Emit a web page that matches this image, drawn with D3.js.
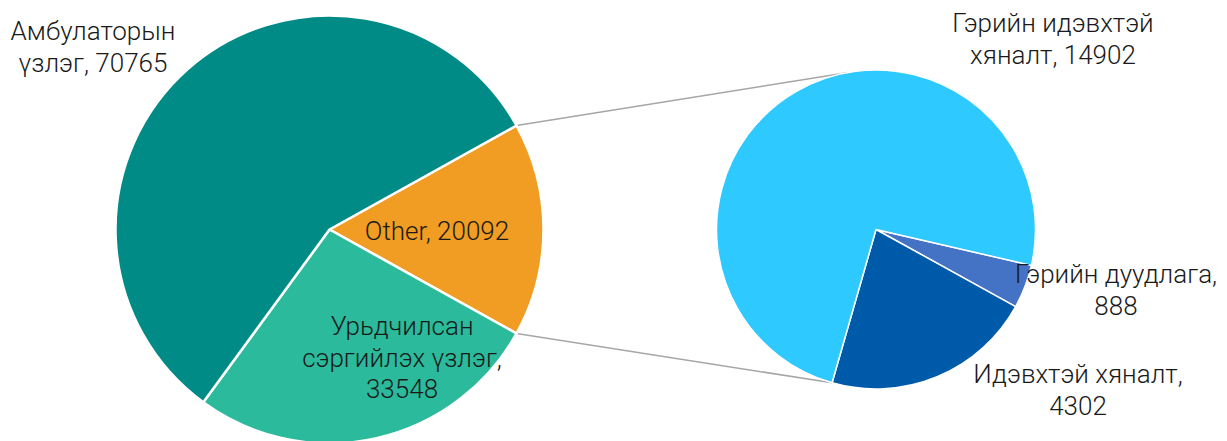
<!DOCTYPE html>
<html>
<head>
<meta charset="utf-8">
<script src="https://cdn.jsdelivr.net/npm/d3@7"></script>
<style>
  body { margin: 0; background: #fff; }
  text { font-family: Roboto, "Noto Sans", sans-serif; font-weight: 300; fill: #1a1a1a; }
</style>
</head>
<body>
<div id="container"></div>
<script>
/* DATA */
const mainLabels = ["Other", "Урьдчилсан сэргийлэх үзлэг", "Амбулаторын үзлэг"];
const mainValues = [20092, 33548, 70765];
const mainColors = ["#F19C22", "#2BBA9B", "#018B86"];

const subLabels = ["Гэрийн дуудлага", "Идэвхтэй хяналт", "Гэрийн идэвхтэй хяналт"];
const subValues = [888, 4302, 14902];
const subColors = ["#4472C4", "#005AAA", "#2DC9FF"];

// label lines (text only), positions kept separately below
const mainText = [["Other, 20092"], ["Урьдчилсан", "сэргийлэх үзлэг,", "33548"], ["Амбулаторын", "үзлэг, 70765"]];
const subText = [["Гэрийн дуудлага,", "888"], ["Идэвхтэй хяналт,", "4302"], ["Гэрийн идэвхтэй", "хяналт, 14902"]];

/* LAYOUT */
const width = 1227, height = 441;
const deg = Math.PI / 180;
const main = { cx: 329.5, cy: 229.5, r: 214 };
const sub = { cx: 876, cy: 229.5, r: 159.5 };
const lineH = 31.5;

const mainLabelPos = [[437, 240], [402, 335], [93, 40]];
const subLabelPos = [[1116, 283], [1078, 383], [1053, 32]];

const svg = d3.select("#container")
  .append("svg")
  .attr("width", width)
  .attr("height", height);

// Other slice is centred on 3 o'clock
const otherSpan = 2 * Math.PI * mainValues[0] / d3.sum(mainValues);
const mainStart = Math.PI / 2 - otherSpan / 2;

const mainPie = d3.pie().sort(null)
  .startAngle(mainStart)
  .endAngle(mainStart + 2 * Math.PI);

const subStart = 103 * deg;
const subPie = d3.pie().sort(null)
  .startAngle(subStart)
  .endAngle(subStart + 2 * Math.PI);

const mainArcs = mainPie(mainValues);
const subArcs = subPie(subValues);

// CONNECTOR LINES ---------------------------------------
const pt = (c, a) => [c.cx + c.r * Math.sin(a), c.cy - c.r * Math.cos(a)];
const connectors = [
  [pt(main, mainArcs[0].startAngle), pt(sub, 350 * deg)],
  [pt(main, mainArcs[0].endAngle), pt(sub, subArcs[1].endAngle)]
];
svg.selectAll(".connector")
  .data(connectors)
  .join("line")
  .attr("class", "connector")
  .attr("x1", d => d[0][0]).attr("y1", d => d[0][1])
  .attr("x2", d => d[1][0]).attr("y2", d => d[1][1])
  .attr("stroke", "#A6A6A6")
  .attr("stroke-width", 1.5);

// PIES ---------------------------------------------------
svg.append("g")
  .attr("transform", `translate(${main.cx},${main.cy})`)
  .selectAll("path")
  .data(mainArcs)
  .join("path")
  .attr("d", d3.arc().innerRadius(0).outerRadius(main.r))
  .attr("fill", (_, i) => mainColors[i])
  .attr("stroke", "#fff")
  .attr("stroke-width", 2.5)
  .attr("stroke-linejoin", "round");

svg.append("g")
  .attr("transform", `translate(${sub.cx},${sub.cy})`)
  .selectAll("path")
  .data(subArcs)
  .join("path")
  .attr("d", d3.arc().innerRadius(0).outerRadius(sub.r))
  .attr("fill", (_, i) => subColors[i])
  .attr("stroke", "#fff")
  .attr("stroke-width", 1.5)
  .attr("stroke-linejoin", "round");

// LABELS -------------------------------------------------
function addLabels(texts, pos) {
  texts.forEach((lines, i) => {
    const t = svg.append("text")
      .attr("text-anchor", "middle")
      .style("font-size", "26px");
    lines.forEach((line, j) => {
      t.append("tspan")
        .attr("x", pos[i][0])
        .attr("y", pos[i][1] + j * lineH)
        .text(line);
    });
  });
}
addLabels(mainText, mainLabelPos);
addLabels(subText, subLabelPos);
</script>
</body>
</html>
